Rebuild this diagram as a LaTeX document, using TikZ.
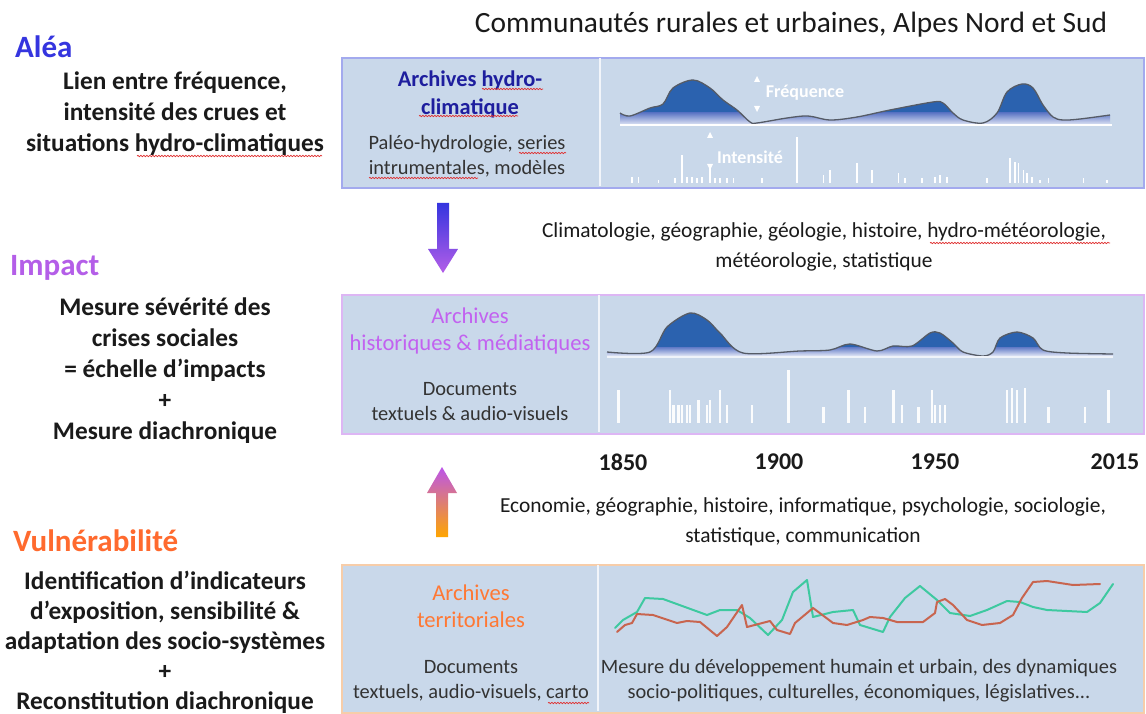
\documentclass[tikz,border=0pt]{standalone}
\usepackage{fontspec}
\setmainfont{Carlito}
\usetikzlibrary{decorations.pathmorphing}
\definecolor{boxfill}{HTML}{C9D8EA}
\definecolor{borderA}{HTML}{A3AAEE}
\definecolor{borderB}{HTML}{DDB6F4}
\definecolor{borderC}{HTML}{F7CDA9}
\definecolor{aleac}{HTML}{3535DF}
\definecolor{impactc}{HTML}{B45EE8}
\definecolor{vulnc}{HTML}{FF6A2E}
\definecolor{titA}{HTML}{1E1E9E}
\definecolor{titB}{HTML}{C262F0}
\definecolor{titC}{HTML}{FF7834}
\definecolor{txtdark}{HTML}{1A1A1A}
\definecolor{txtbox}{HTML}{333333}
\definecolor{peak}{HTML}{2B62AF}
\definecolor{peaklow}{HTML}{6079C6}
\definecolor{peakbase}{HTML}{E2E7F6}
\definecolor{curveline}{HTML}{555B66}
\definecolor{greenl}{HTML}{3EC9A0}
\definecolor{redl}{HTML}{C8654F}
\definecolor{spell}{HTML}{E03030}
\begin{document}
\begin{tikzpicture}[x=1pt,y=-1pt,
  every node/.style={inner sep=0pt},
  head/.style={anchor=west, font=\bfseries\fontsize{31}{37}\selectfont},
  leftbody/.style={align=center, text=txtdark, font=\bfseries\fontsize{25.3}{31}\selectfont},
  boxtitle/.style={align=center, font=\fontsize{22.6}{26.5}\selectfont},
  boxbody/.style={align=center, text=txtbox, font=\fontsize{20.4}{25}\selectfont},
  midtext/.style={align=center, text=txtdark, font=\fontsize{21.4}{30}\selectfont},
  year/.style={text=txtdark, font=\bfseries\fontsize{24}{28}\selectfont},
  panel/.style={draw, fill=boxfill, line width=2pt, anchor=north west, minimum width=802pt},
  divider/.style={draw=white!75!boxfill, line width=1.5pt},
  baseline/.style={draw=white, line width=1.5pt},
  bar/.style={draw=white, line width=1.6pt},
  wbar/.style={draw=white!92!boxfill, line width=2.4pt},
  tri/.style={fill=white},
  wlabel/.style={text=white, font=\bfseries\fontsize{18}{20}\selectfont},
  squiggle/.style={draw=spell, line width=0.7pt, decorate, decoration={snake, segment length=3pt, amplitude=0.7pt}}
]
\useasboundingbox[fill=white] (0,0) rectangle (1146,714);

% ---------- panels ----------
\node[panel, draw=borderA, minimum height=130pt] (pA) at (341,57) {};
\node[panel, draw=borderB, minimum height=139pt] (pB) at (341,294) {};
\node[panel, draw=borderC, minimum height=148pt] (pC) at (341,564) {};
\draw[divider] (600,58) -- (600,186);
\draw[divider] (599,295) -- (599,432);
\draw[divider] (598,565) -- (598,711);

% ---------- title ----------
\node[text=txtdark, font=\fontsize{29.4}{35}\selectfont] (title) at (791,25) {Communautés rurales et urbaines, Alpes Nord et Sud};

% ---------- left column ----------
\node[head, text=aleac] (alea) at (15,47) {Aléa};
\node[leftbody] (lA) at (175,114) {Lien entre fréquence,\\intensité des crues et\\situations hydro-climatiques};
\node[head, text=impactc] (impact) at (10,268) {Impact};
\node[leftbody] (lB) at (165,371) {Mesure sévérité des\\crises sociales\\= échelle d’impacts\\+\\Mesure diachronique};
\node[head, text=vulnc] (vuln) at (13,541) {Vulnérabilité};
\node[leftbody, font=\bfseries\fontsize{25.3}{30}\selectfont] (lC) at (165,642) {Identification d’indicateurs\\d’exposition, sensibilité \&\\adaptation des socio-systèmes\\+\\Reconstitution diachronique};

% ---------- panel texts ----------
\node[boxtitle, text=titA, font=\bfseries\fontsize{22.4}{28}\selectfont] (tA) at (470,94) {Archives hydro-\\climatique};
\node[boxbody] (bA) at (467,156) {Paléo-hydrologie, series\\intrumentales, modèles};
\node[boxtitle, text=titB] (tB) at (470,331) {Archives\\historiques \& médiatiques};
\node[boxbody] (bB) at (470,402) {Documents\\textuels \& audio-visuels};
\node[boxtitle, text=titC] (tC) at (471,606) {Archives\\territoriales};
\node[boxbody] (bC) at (471,681) {Documents\\textuels, audio-visuels, carto};
\node[boxbody] (rC) at (859,681) {Mesure du développement humain et urbain, des dynamiques\\socio-politiques, culturelles, économiques, législatives...};

% ---------- middle texts ----------
\node[midtext] (dA) at (824,247) {Climatologie, géographie, géologie, histoire, hydro-météorologie,\\météorologie, statistique};
\node[midtext] (dB) at (803,522) {Economie, géographie, histoire, informatique, psychologie, sociologie,\\statistique, communication};
\node[year] (y1850) at (623,462) {1850};
\node[year] (y1900) at (779,462) {1900};
\node[year] (y1950) at (935,462) {1950};
\node[year] (y2015) at (1115,462) {2015};

% ---------- spell-check marks ----------
\draw[squiggle] (137,156) -- (322,156);
\draw[squiggle] (482,89) -- (543,89);
\draw[squiggle] (419,116) -- (518,116);
\draw[squiggle] (519,153) -- (566,153);
\draw[squiggle] (369,178) -- (478,178);
\draw[squiggle] (930,243) -- (1110,243);
\draw[squiggle] (548,703) -- (589,703);

% ---------- arrows ----------
\path[top color=aleac, bottom color=impactc]
  (437,203) -- (449,203) -- (449,249) -- (458,249) -- (443,273) -- (428,249) -- (437,249) -- cycle;
\path[top color=impactc!90!magenta, bottom color=orange!70!yellow]
  (442,467) -- (457,493) -- (448,493) -- (448,537) -- (436,537) -- (436,493) -- (427,493) -- cycle;

% ---------- chart A ----------
\begin{scope}
\clip plot[smooth, tension=0.55] coordinates {(620,113) (630,116) (650,108) (663,104) (673,88) (693,80) (710,88) (723,100) (737,110) (750,122) (757,123) (787,118) (808,116) (830,120) (857,117) (890,110) (933,102) (943,103) (953,113) (963,120) (983,123) (997,113) (1007,92) (1022,84) (1033,88) (1043,105) (1053,117) (1063,120) (1080,119) (1110,115)} -- (1110,125) -- (620,125) -- cycle;
\fill[peak] (610,70) rectangle (1120,113);
\path[top color=peaklow, bottom color=peakbase] (610,113) rectangle (1120,125);
\end{scope}
\draw[curveline, line width=1.3pt] plot[smooth, tension=0.55] coordinates {(620,113) (630,116) (650,108) (663,104) (673,88) (693,80) (710,88) (723,100) (737,110) (750,122) (757,123) (787,118) (808,116) (830,120) (857,117) (890,110) (933,102) (943,103) (953,113) (963,120) (983,123) (997,113) (1007,92) (1022,84) (1033,88) (1043,105) (1053,117) (1063,120) (1080,119) (1110,115)};
\draw[baseline] (620,125) -- (1112,125);
\fill[tri] (757,76) -- (760,82) -- (754,82) -- cycle;
\fill[tri] (757,112) -- (760,106) -- (754,106) -- cycle;
\node[wlabel] (freq) at (805,93) {Fréquence};
\fill[tri] (710,132) -- (713,138) -- (707,138) -- cycle;
\fill[tri] (710,170) -- (713,164) -- (707,164) -- cycle;
\node[wlabel] (intens) at (750,157) {Intensité};
\foreach \x/\t in {631.7/176.7, 638.3/176.7, 658.3/180, 675/178.3, 681.7/155, 686.7/176.7, 691.7/176.7, 696.7/178, 701.7/176.7, 710/168, 715/178, 720/178, 726.7/178, 733.3/178, 761.7/178, 796.7/136.7, 823.3/175, 830/170, 856.7/163.3, 871.7/170, 898.3/173.3, 905/178, 921.7/178, 935/176.7, 940/175, 946.7/176.7, 986.7/178, 1010/158.3, 1015/161.7, 1018.3/163.3, 1023.3/170, 1026.7/173.3, 1031.7/176.7, 1040/180, 1048.3/178, 1083.3/178, 1106.7/180}
  \draw[bar] (\x,183) -- (\x,\t);

% ---------- chart B ----------
\begin{scope}
\clip plot[smooth, tension=0.5] coordinates {(607,352) (650,352) (667,327) (690,313) (707,320) (720,333) (743,353) (800,351) (830,350) (850,344) (877,351) (893,346) (912,346) (930,333) (940,333) (953,343) (963,352) (983,356) (993,352) (1000,338) (1017,332) (1033,338) (1043,350) (1067,353) (1113,354)} -- (1113,356) -- (607,356) -- cycle;
\fill[peak] (600,300) rectangle (1120,347);
\path[top color=peaklow, bottom color=peakbase] (600,347) rectangle (1120,356);
\end{scope}
\draw[curveline, line width=1.3pt] plot[smooth, tension=0.5] coordinates {(607,352) (650,352) (667,327) (690,313) (707,320) (720,333) (743,353) (800,351) (830,350) (850,344) (877,351) (893,346) (912,346) (930,333) (940,333) (953,343) (963,352) (983,356) (993,352) (1000,338) (1017,332) (1033,338) (1043,350) (1067,353) (1113,354)};
\draw[baseline, draw=white!70!boxfill] (607,357) -- (1113,357);
\foreach \x/\t in {618.3/390, 670/390, 673.3/405, 678.3/405, 681.7/405, 686.7/405, 690/405, 698.3/400, 706.7/405, 710/400, 720/390, 726.7/405, 751.7/405, 788.3/370, 823.3/406.7, 848.3/390, 865/406.7, 893.3/390, 901.7/405, 918.3/406.7, 931.7/390, 935/405, 940/405, 945/405, 1006.7/390, 1011.7/388.3, 1016.7/390, 1025/388.3, 1048.3/406.7, 1085/406.7, 1108.3/390}
  \draw[wbar] (\x,423) -- (\x,\t);

% ---------- chart C ----------
\draw[greenl, line width=2pt, line join=round, line cap=round] (615,628) -- (623,620) -- (637,612) -- (645,598) -- (663,599) -- (707,615) -- (720,610) -- (737,610) -- (750,618) -- (768,635) -- (782,620) -- (793,592) -- (807,580) -- (813,617) -- (833,612) -- (853,610) -- (860,625) -- (883,632) -- (890,617) -- (905,598) -- (920,586) -- (937,600) -- (950,613) -- (970,616) -- (987,610) -- (1007,601) -- (1020,602) -- (1033,607) -- (1047,610) -- (1087,612) -- (1100,603) -- (1113,584);
\draw[redl, line width=2pt, line join=round, line cap=round] (617,632) -- (625,625) -- (632,623) -- (637,614) -- (653,615) -- (677,623) -- (687,621) -- (700,622) -- (717,636) -- (727,627) -- (742,605) -- (747,627) -- (770,621) -- (777,630) -- (790,634) -- (795,623) -- (813,608) -- (833,623) -- (847,625) -- (863,620) -- (870,617) -- (883,618) -- (897,622) -- (923,622) -- (935,613) -- (937,602) -- (945,599) -- (953,605) -- (967,620) -- (982,625) -- (1000,623) -- (1013,615) -- (1022,598) -- (1033,582) -- (1047,581) -- (1073,585) -- (1100,584);
\end{tikzpicture}
\end{document}
